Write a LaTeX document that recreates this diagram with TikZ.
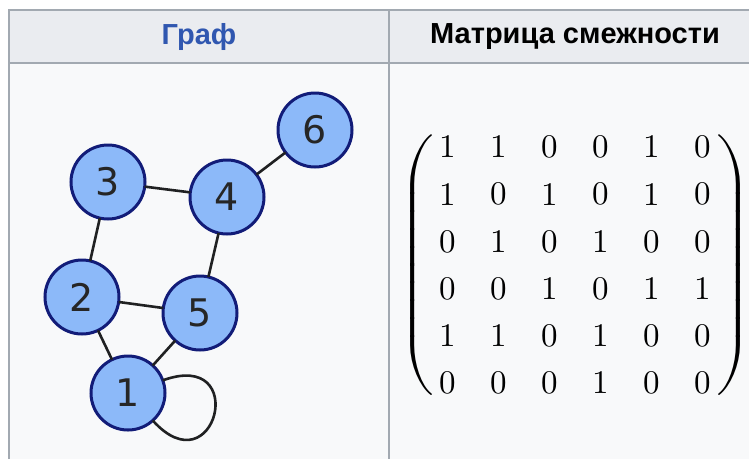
\documentclass[tikz,border=0pt]{standalone}
\usepackage{fontspec}
\usepackage{unicode-math}
\newfontfamily\headfont{Liberation Sans}
\newfontfamily\vertfont{DejaVu Sans}
\usetikzlibrary{matrix}
\definecolor{headbg}{HTML}{EAECF0}
\definecolor{cellbg}{HTML}{F8F9FA}
\definecolor{rulegray}{HTML}{A2A9B1}
\definecolor{linkblue}{HTML}{3057B0}
\definecolor{vertfill}{RGB}{140,185,249}
\definecolor{vertdraw}{RGB}{18,28,120}
\definecolor{edgecol}{HTML}{202122}
\begin{document}
\begin{tikzpicture}[x=1pt,y=1pt,inner sep=0pt,outer sep=0pt,
vertex/.style={draw=vertdraw,fill=vertfill,circle,line width=3pt,minimum size=74pt,
  font=\vertfont\fontsize{38}{38}\selectfont,text=black!85},
edge/.style={draw=edgecol,line width=2.6pt},
headtext/.style={font=\headfont\bfseries\fontsize{29}{29}\selectfont},
entry/.style={minimum width=30pt,minimum height=30pt,anchor=center},
every left delimiter/.style={xshift=3pt,font=\fontsize{40}{40}\selectfont},
every right delimiter/.style={xshift=-2pt,font=\fontsize{40}{40}\selectfont}]

\useasboundingbox (0,0) rectangle (749,-459);
\fill[white] (0,0) rectangle (749,-459);
% table cells
\fill[headbg] (9,-10) rectangle (749,-63);
\fill[cellbg] (9,-63) rectangle (749,-459);
\draw[rulegray,line width=2pt] (9,-459) -- (9,-10) -- (749,-10);
\draw[rulegray,line width=2pt] (9,-63) -- (749,-63);
\draw[rulegray,line width=2pt] (389,-10) -- (389,-459);
\draw (199,-37) node[headtext,text=linkblue] (hgraph) {Граф};
\draw (575,-37) node[headtext,text=black] (hmatrix) {Матрица смежности};

% graph
\draw (128,-393) node[vertex] (v1) {1};
\draw (82,-297) node[vertex] (v2) {2};
\draw (108,-182) node[vertex] (v3) {3};
\draw (227,-197) node[vertex] (v4) {4};
\draw (200,-313) node[vertex] (v5) {5};
\draw (315,-130) node[vertex] (v6) {6};
\draw[edge] (v1) -- (v2);
\draw[edge] (v1) -- (v5);
\draw[edge] (v2) -- (v3);
\draw[edge] (v2) -- (v5);
\draw[edge] (v3) -- (v4);
\draw[edge] (v4) -- (v5);
\draw[edge] (v4) -- (v6);
\draw[edge] (v1.20) to[out=20,in=-48,looseness=5.8] (v1.-48);

% adjacency matrix
\matrix (adj) at (575,-265) [matrix of math nodes,column sep=21pt,row sep=17.2pt,
  nodes={entry},font=\fontsize{33}{33}\selectfont,
  left delimiter=(,right delimiter=)] {
1 & 1 & 0 & 0 & 1 & 0 \\
1 & 0 & 1 & 0 & 1 & 0 \\
0 & 1 & 0 & 1 & 0 & 0 \\
0 & 0 & 1 & 0 & 1 & 1 \\
1 & 1 & 0 & 1 & 0 & 0 \\
0 & 0 & 0 & 1 & 0 & 0 \\
};
\end{tikzpicture}
\end{document}
